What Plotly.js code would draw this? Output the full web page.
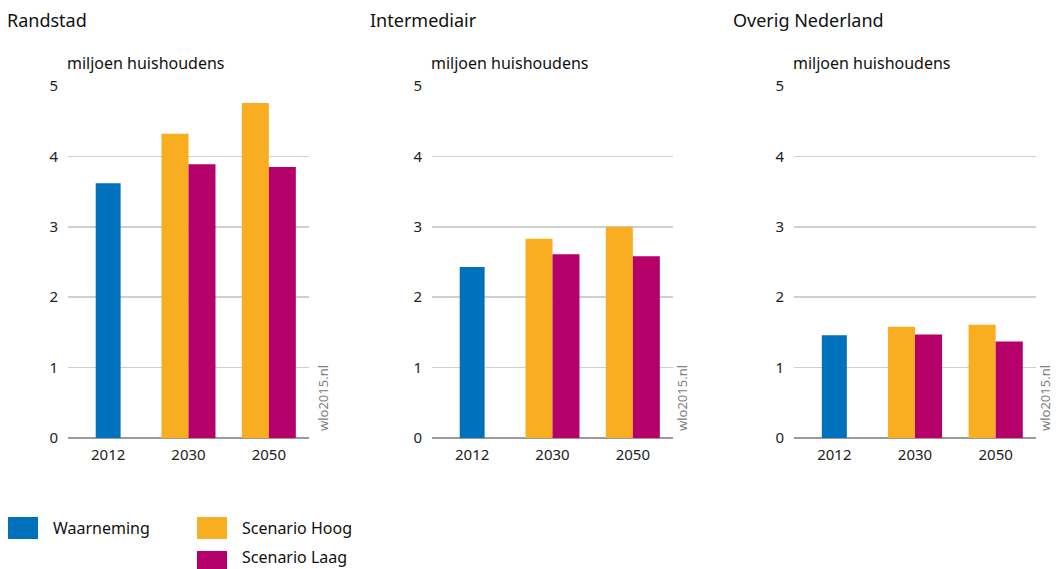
<!DOCTYPE html>
<html>
<head>
<meta charset="utf-8">
<script src="https://cdn.plot.ly/plotly-3.0.1.min.js"></script>
<style>html,body{margin:0;padding:0;background:#fff;}#chart{width:1057px;height:569px;}</style>
</head>
<body>
<div id="chart"></div>
<script>
// ---- data ----
const regions = ['Randstad', 'Intermediair', 'Overig Nederland'];
const years = ['2012', '2030', '2050'];
const seriesNames = ['Waarneming', 'Scenario Hoog', 'Scenario Laag'];
const seriesColors = ['#0071BC', '#F9AD20', '#B5006A'];
const waarneming2012 = [3.62, 2.43, 1.46];
const hoog2030 = [4.32, 2.83, 1.58];
const hoog2050 = [4.76, 3.00, 1.61];
const laag2030 = [3.89, 2.61, 1.47];
const laag2050 = [3.85, 2.58, 1.37];
const yTicks = [0, 1, 2, 3, 4, 5];
const yLabel = 'miljoen huishoudens';
const source = 'wlo2015.nl';

// ---- layout geometry ----
const W = 1057, H = 569;
const FONT = '"Noto Sans", "Open Sans", sans-serif';
const xDomPx = [[68, 309], [432, 673], [794, 1036]];
const titleXPx = [8, 371, 734];
const sourceXPx = [323, 682, 1045];
const yTopPx = 86, yBotPx = 438;
const px = v => v / W;
const py = v => (H - v) / H;

const traces = [];
const layout = {
  width: W, height: H,
  margin: {l: 0, r: 0, t: 0, b: 0},
  paper_bgcolor: '#fff', plot_bgcolor: '#fff',
  barmode: 'overlay',
  showlegend: false,
  font: {family: FONT, size: 14, color: '#222'},
  annotations: [], shapes: []
};

regions.forEach((reg, i) => {
  const sfx = i === 0 ? '' : String(i + 1);
  const xa = 'x' + sfx, ya = 'y' + sfx;
  traces.push({
    type: 'bar', name: seriesNames[0], x: [years[0]], y: [waarneming2012[i]],
    xaxis: xa, yaxis: ya, width: 0.31, offset: -0.155,
    marker: {color: seriesColors[0]}, hoverinfo: 'x+y'
  });
  traces.push({
    type: 'bar', name: seriesNames[1], x: [years[1], years[2]], y: [hoog2030[i], hoog2050[i]],
    xaxis: xa, yaxis: ya, width: 0.336, offset: -0.336,
    marker: {color: seriesColors[1]}, hoverinfo: 'x+y'
  });
  traces.push({
    type: 'bar', name: seriesNames[2], x: [years[1], years[2]], y: [laag2030[i], laag2050[i]],
    xaxis: xa, yaxis: ya, width: 0.336, offset: 0,
    marker: {color: seriesColors[2]}, hoverinfo: 'x+y'
  });

  layout['xaxis' + sfx] = {
    domain: [px(xDomPx[i][0]), px(xDomPx[i][1])],
    anchor: ya, type: 'category', categoryorder: 'array', categoryarray: years,
    range: [-0.5, 2.5], showgrid: false, showline: false, zeroline: false,
    ticks: '', ticklabelstandoff: 6, tickfont: {size: 15, color: '#222'}, fixedrange: true
  };
  layout['yaxis' + sfx] = {
    domain: [py(yBotPx), py(yTopPx)],
    anchor: xa, range: [0, 5], tickvals: yTicks,
    showgrid: true, gridcolor: '#cfcfcf', gridwidth: 1.5,
    zeroline: true, zerolinecolor: '#9a9a9a', zerolinewidth: 2,
    showline: false, ticks: '', ticklabelstandoff: 9,
    tickfont: {size: 15, color: '#222'}, fixedrange: true
  };

  // panel title
  layout.annotations.push({
    xref: 'paper', yref: 'paper', x: px(titleXPx[i] - 3), y: py(20),
    xanchor: 'left', yanchor: 'middle', showarrow: false,
    text: reg, font: {size: 18, color: '#111'}
  });
  // unit label
  layout.annotations.push({
    xref: 'paper', yref: 'paper', x: px(xDomPx[i][0] - 3), y: py(63),
    xanchor: 'left', yanchor: 'middle', showarrow: false,
    text: yLabel, font: {size: 16, color: '#111'}
  });
  // source
  layout.annotations.push({
    xref: 'paper', yref: 'paper', x: px(sourceXPx[i]), y: py(398),
    xanchor: 'center', yanchor: 'middle', showarrow: false, textangle: -90,
    text: source, font: {size: 13, color: '#808080'}
  });
});

// legend (built from series names/colours)
const legendPos = [[8, 528], [197, 528], [197, 562]];
const legendTextY = [528, 528, 557];
seriesNames.forEach((nm, k) => {
  const [lx, ly] = legendPos[k];
  layout.shapes.push({
    type: 'rect', xref: 'paper', yref: 'paper',
    x0: px(lx), x1: px(lx + 30), y0: py(ly + 11), y1: py(ly - 11),
    fillcolor: seriesColors[k], line: {width: 0}
  });
  layout.annotations.push({
    xref: 'paper', yref: 'paper', x: px(lx + 43), y: py(legendTextY[k]),
    xanchor: 'left', yanchor: 'middle', showarrow: false,
    text: nm, font: {size: 16, color: '#111'}
  });
});

Plotly.newPlot('chart', traces, layout, {displayModeBar: false, staticPlot: true});
</script>
</body>
</html>
